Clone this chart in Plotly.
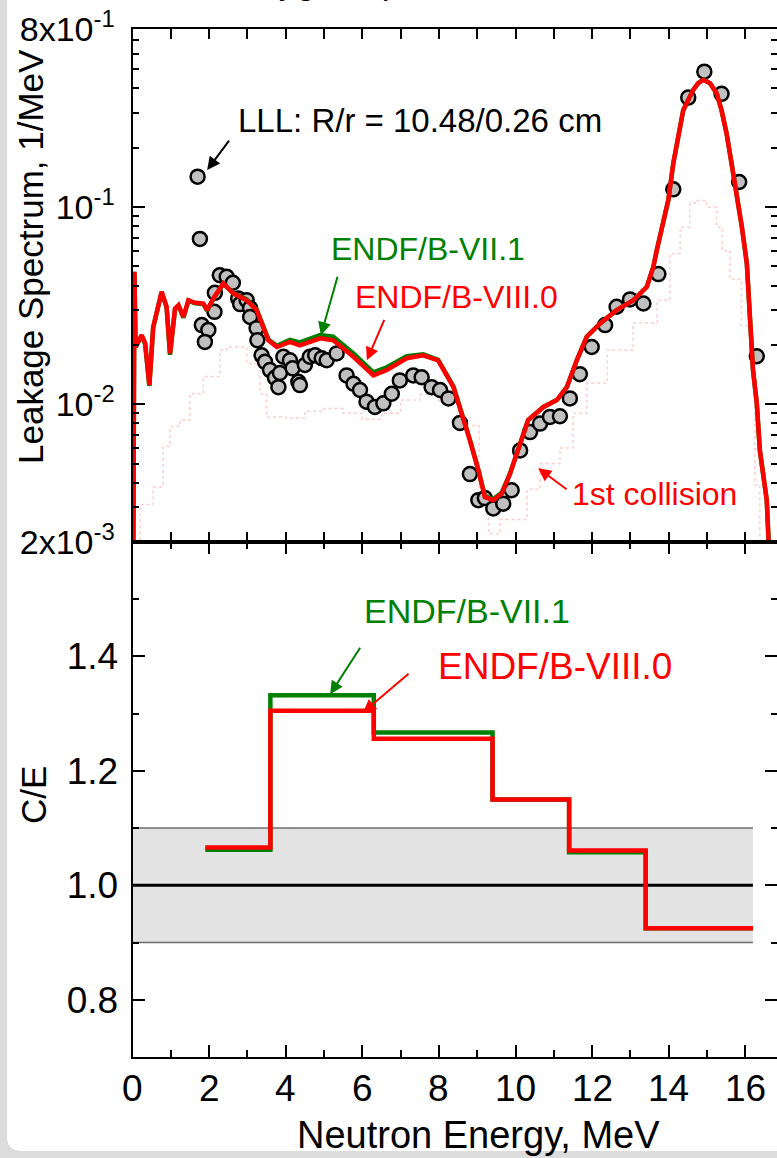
import numpy as np
import plotly.graph_objects as go

W, H = 777, 1158
FONT = "Liberation Sans, Arial, sans-serif"

# ---------------- data: leakage spectrum (top panel) ----------------
exp_E = [1.70, 1.76, 2.28, 2.46, 2.62, 2.15, 2.76, 2.14, 2.81, 2.98, 3.07, 3.07,
         1.81, 1.98, 1.89, 3.24, 3.26, 3.37, 3.46, 3.59, 3.72, 3.81, 3.85, 3.94,
         4.11, 4.18, 4.33, 4.37, 4.50, 4.63, 4.77, 4.94, 5.07, 5.33, 5.59, 5.77,
         5.94, 6.11, 6.33, 6.55, 6.77, 6.98, 7.33, 7.55, 7.81, 8.03, 8.25, 8.55,
         8.81, 9.03, 9.20, 9.42, 9.68, 9.90, 10.12, 10.38, 10.64, 10.90, 11.16,
         11.42, 11.68, 11.99, 12.34, 12.64, 12.99, 13.34, 13.73, 14.12, 14.51,
         14.93, 15.38, 15.84, 16.30]
exp_v = [0.1426, 0.0689, 0.0451, 0.0443, 0.0413, 0.0367, 0.0344, 0.0294, 0.0322,
         0.0337, 0.0307, 0.0277, 0.0252, 0.0238, 0.0207, 0.0243, 0.0211, 0.0177,
         0.0164, 0.0149, 0.0136, 0.0122, 0.0144, 0.0174, 0.0167, 0.0152, 0.0130,
         0.0125, 0.0158, 0.0174, 0.0177, 0.0171, 0.0167, 0.0181, 0.0140, 0.0127,
         0.0118, 0.0103, 0.00969, 0.0101, 0.0113, 0.0132, 0.0140, 0.0137, 0.0122,
         0.0118, 0.0107, 0.00804, 0.00442, 0.00326, 0.00334, 0.00296, 0.00313,
         0.00366, 0.00583, 0.00722, 0.00797, 0.00862, 0.00869, 0.0107, 0.0142,
         0.0195, 0.0252, 0.0312, 0.0340, 0.0324, 0.0457, 0.1230, 0.359, 0.486,
         0.375, 0.134, 0.0175]

calc_E = [0.02, 0.05, 0.08, 0.24, 0.33, 0.44, 0.54, 0.76, 0.89, 0.98, 1.11, 1.20,
          1.33, 1.46, 1.63, 1.85, 1.95, 2.11, 2.37, 2.63, 2.98, 3.24, 3.55, 3.77,
          4.11, 4.37, 4.90, 5.24, 5.77, 6.29, 6.64, 7.16, 7.59, 7.98, 8.38, 8.55,
          8.81, 9.03, 9.20, 9.42, 9.64, 9.86, 10.12, 10.33, 10.73, 11.08, 11.34,
          11.60, 11.86, 12.21, 12.64, 13.08, 13.43, 13.60, 13.69, 13.86, 13.99,
          14.12, 14.21, 14.29, 14.38, 14.51, 14.64, 14.77, 14.90, 15.08, 15.25,
          15.38, 15.51, 15.64, 15.77, 15.91, 16.04, 16.10, 16.20, 16.30, 16.38,
          16.56, 16.62]
endf80_v = [0.0015, 0.047, 0.0195, 0.0224, 0.0204, 0.0125, 0.0246, 0.0372, 0.0312,
            0.0181, 0.0306, 0.0318, 0.0277, 0.0337, 0.0327, 0.0324, 0.0300, 0.0344,
            0.0410, 0.0365, 0.0337, 0.0300, 0.0211, 0.0195, 0.0207, 0.0199, 0.0216,
            0.0211, 0.0174, 0.0140, 0.0149, 0.0171, 0.0177, 0.0167, 0.0122, 0.00968,
            0.00656, 0.00462, 0.00338, 0.00326, 0.00352, 0.00445, 0.00632, 0.0083,
            0.00968, 0.0105, 0.0122, 0.0167, 0.0220, 0.0257, 0.0300, 0.0337, 0.0394,
            0.0498, 0.0605, 0.0826, 0.1086, 0.1668, 0.2105, 0.256, 0.310, 0.349,
            0.393, 0.425, 0.442, 0.425, 0.378, 0.310, 0.237, 0.1668, 0.1175, 0.0794,
            0.0518, 0.0337, 0.0150, 0.0101, 0.00583, 0.00326, 0.0018]
endf71_v = [0.0015, 0.047, 0.0195, 0.0222, 0.0202, 0.0124, 0.0244, 0.0370, 0.0310,
            0.0178, 0.0303, 0.0316, 0.0275, 0.0335, 0.0325, 0.0322, 0.0298, 0.0342,
            0.0408, 0.0366, 0.0340, 0.0303, 0.0213, 0.0198, 0.0212, 0.0206, 0.0224,
            0.0220, 0.0181, 0.0145, 0.0154, 0.0175, 0.0179, 0.0168, 0.0123, 0.00975,
            0.00660, 0.00466, 0.00342, 0.00330, 0.00355, 0.00447, 0.00632, 0.0083,
            0.00968, 0.0105, 0.0122, 0.0167, 0.0220, 0.0257, 0.0300, 0.0337, 0.0394,
            0.0498, 0.0605, 0.0826, 0.1086, 0.1668, 0.2105, 0.256, 0.310, 0.349,
            0.393, 0.425, 0.442, 0.425, 0.378, 0.310, 0.237, 0.1668, 0.1175, 0.0794,
            0.0518, 0.0337, 0.0150, 0.0101, 0.00583, 0.00326, 0.0018]

coll_E = [0.05, 0.20, 0.54, 0.80, 0.98, 1.24, 1.50, 1.85, 2.28, 2.46, 2.98, 3.33,
          3.50, 4.0, 4.5, 5.0, 5.5, 6.0, 6.5, 7.0, 7.5, 8.0, 8.5, 9.05, 9.3, 9.6,
          10.3, 10.64, 11.16, 11.5, 11.86, 12.4, 13.07, 13.7, 14.03, 14.3, 14.55,
          14.72, 14.99, 15.25, 15.4, 15.6, 15.9, 16.2, 16.25, 16.38]
coll_v = [0.0019, 0.0031, 0.0038, 0.0061, 0.0077, 0.0083, 0.0113, 0.0138, 0.0188,
          0.0195, 0.0161, 0.0113, 0.0086, 0.0085, 0.0092, 0.0095, 0.0090, 0.0084,
          0.0090, 0.0105, 0.0112, 0.0104, 0.0078, 0.0030, 0.0022, 0.0026, 0.0037,
          0.0050, 0.0060, 0.0090, 0.0128, 0.0188, 0.0258, 0.0337, 0.058, 0.079,
          0.105, 0.108, 0.100, 0.079, 0.060, 0.043, 0.025, 0.0154, 0.0039, 0.0019]

# ---------------- data: C/E (bottom panel) ----------------
ce_edges = [1.9, 3.6, 6.3, 9.4, 11.4, 13.4, 16.2]
ce_endf71 = [1.062, 1.332, 1.267, 1.150, 1.058, 0.925]
ce_endf80 = [1.066, 1.305, 1.256, 1.150, 1.061, 0.925]

y_tickvals = [0.002, 0.01, 0.1, 0.8]
y_ticktext = ["2x10<sup>-3</sup>", "10<sup>-2</sup>", "10<sup>-1</sup>", "8x10<sup>-1</sup>"]
y_minor = [0.003, 0.004, 0.005, 0.006, 0.007, 0.008, 0.009,
           0.02, 0.03, 0.04, 0.05, 0.06, 0.07, 0.08, 0.09,
           0.2, 0.3, 0.4, 0.5, 0.6, 0.7]
ce_tickvals = [0.8, 1.0, 1.2, 1.4]
ce_ticktext = ["0.8", "1.0", "1.2", "1.4"]
ce_minor = [0.9, 1.1, 1.3, 1.5]
x_tickvals = [0, 2, 4, 6, 8, 10, 12, 14, 16]
x_ticktext = ["0", "2", "4", "6", "8", "10", "12", "14", "16"]

GREEN = "#008000"
RED = "#ff0000"

# ---------------- geometry ----------------
def px(x):
    return x / W

def py(y):
    return 1 - y / H

XL = 132.5
YT, YM, YB = 29, 542, 1057
XMAX = (W - XL) / 38.3

fig = go.Figure()

fig.add_trace(go.Scatter(x=coll_E, y=coll_v, xaxis="x", yaxis="y", mode="lines",
                         line=dict(color="rgba(255,90,90,0.3)", width=1.5, dash="dot", shape="hv")))
fig.add_trace(go.Scatter(x=exp_E, y=exp_v, xaxis="x", yaxis="y", mode="markers",
                         marker=dict(size=14, color="#c0c0c0", line=dict(color="black", width=2.5))))
fig.add_trace(go.Scatter(x=calc_E, y=endf71_v, xaxis="x", yaxis="y", mode="lines",
                         line=dict(color=GREEN, width=4.5)))
fig.add_trace(go.Scatter(x=calc_E, y=endf80_v, xaxis="x", yaxis="y", mode="lines",
                         line=dict(color=RED, width=4.5)))

fig.add_trace(go.Scatter(x=ce_edges, y=ce_endf71 + [ce_endf71[-1]], xaxis="x2", yaxis="y2",
                         mode="lines", line=dict(color=GREEN, width=4.5, shape="hv")))
fig.add_trace(go.Scatter(x=ce_edges, y=ce_endf80 + [ce_endf80[-1]], xaxis="x2", yaxis="y2",
                         mode="lines", line=dict(color=RED, width=4.5, shape="hv")))

shapes = [
    dict(type="rect", xref="x2", yref="y2", x0=0, x1=16.2, y0=0.9, y1=1.1,
         fillcolor="#e3e3e3", line=dict(width=0), layer="below"),
    dict(type="line", xref="x2", yref="y2", x0=0, x1=16.2, y0=0.9, y1=0.9,
         line=dict(color="#6e6e6e", width=1.5), layer="below"),
    dict(type="line", xref="x2", yref="y2", x0=0, x1=16.2, y0=1.1, y1=1.1,
         line=dict(color="#6e6e6e", width=1.5), layer="below"),
    dict(type="line", xref="x2", yref="y2", x0=0, x1=16.2, y0=1.0, y1=1.0,
         line=dict(color="black", width=3), layer="below"),
    # grey frame at left and bottom
    dict(type="rect", xref="paper", yref="paper", x0=0, x1=px(7), y0=0, y1=1,
         fillcolor="#dcdcdc", line=dict(width=0), layer="above"),
    dict(type="rect", xref="paper", yref="paper", x0=0, x1=1, y0=0, y1=py(1151),
         fillcolor="#dcdcdc", line=dict(width=0), layer="above"),
    dict(type="path", xref="paper", yref="paper",
         path="M {a},{b} Q {a},{c} {d},{c} L {a},{c} Z".format(
             a=px(7), b=py(1136), c=py(1151), d=px(22)),
         fillcolor="#dcdcdc", line=dict(width=0), layer="above"),
]

base = dict(linecolor="black", linewidth=2, ticks="inside", tickcolor="black",
            tickwidth=2, showgrid=False, zeroline=False, automargin=False)
TOPY_FONT = dict(family=FONT, size=34, color="black")
BIG_FONT = dict(family=FONT, size=37, color="black")

top_range = [np.log10(0.002), np.log10(0.8)]
top_minor = dict(tickmode="array", tickvals=y_minor, ticks="inside", ticklen=6,
                 tickwidth=2, tickcolor="black", showgrid=False)
ce_minor_d = dict(tickmode="array", tickvals=ce_minor, ticks="inside", ticklen=6,
                  tickwidth=2, tickcolor="black", showgrid=False)

layout = dict(
    template="none",
    width=W, height=H, margin=dict(l=0, r=0, t=0, b=0, pad=0, autoexpand=False),
    paper_bgcolor="white", plot_bgcolor="white", showlegend=False,
    font=dict(family=FONT, color="black"),
    xaxis=dict(domain=[px(XL), 1], range=[0, XMAX], anchor="y", showticklabels=False,
               tickmode="linear", tick0=0, dtick=1, ticklen=10, showline=True,
               mirror="ticks", **base),
    yaxis=dict(domain=[py(YM), py(YT)], type="log", anchor="x", range=top_range,
               tickmode="array", tickvals=y_tickvals, ticktext=y_ticktext, ticklen=12,
               ticklabelstandoff=9, tickfont=TOPY_FONT, minor=top_minor,
               showline=True, mirror=False, **base),
    yaxis3=dict(domain=[py(YM), py(YT)], type="log", anchor="x", overlaying="y",
                side="right", range=top_range, showticklabels=False,
                tickmode="array", tickvals=y_tickvals, ticklen=12, minor=top_minor,
                showline=False, **base),
    xaxis2=dict(domain=[px(XL), 1], range=[0, XMAX], anchor="y2",
                tickmode="array", tickvals=x_tickvals, ticklen=12, showticklabels=False,
                minor=dict(tickmode="linear", tick0=1, dtick=2, ticks="inside", ticklen=7,
                           tickwidth=2, tickcolor="black", showgrid=False),
                showline=True, mirror="ticks", **base),
    yaxis2=dict(domain=[py(YB), py(YM)], range=[0.7, 1.6], anchor="x2",
                tickmode="array", tickvals=ce_tickvals, ticktext=ce_ticktext, ticklen=12,
                ticklabelstandoff=5, tickfont=BIG_FONT, minor=ce_minor_d,
                showline=True, mirror=False, **base),
    yaxis4=dict(domain=[py(YB), py(YM)], range=[0.7, 1.6], anchor="x2", overlaying="y2",
                side="right", showticklabels=False,
                tickmode="array", tickvals=ce_tickvals, ticklen=12, minor=ce_minor_d,
                showline=False, **base),
    shapes=shapes,
)
fig.update_layout(**layout)

# invisible traces so the right-hand tick axes are drawn
fig.add_trace(go.Scatter(x=[None], y=[None], xaxis="x", yaxis="y3", showlegend=False,
                         hoverinfo="skip"))
fig.add_trace(go.Scatter(x=[None], y=[None], xaxis="x2", yaxis="y4", showlegend=False,
                         hoverinfo="skip"))

ann = []

def text_ann(x, y, text, color, size, xanchor="center"):
    ann.append(dict(xref="paper", yref="paper", x=px(x), y=py(y), text=text,
                    showarrow=False, xanchor=xanchor, yanchor="middle",
                    font=dict(family=FONT, size=size, color=color)))

def arrow_ann(xr, yr, x, y, ax, ay, color):
    ann.append(dict(xref=xr, yref=yr, x=x, y=y, ax=ax, ay=ay, axref="pixel", ayref="pixel",
                    text="", showarrow=True, arrowhead=2, arrowsize=1.3, arrowwidth=2,
                    arrowcolor=color, standoff=0))

# x tick labels of the lower axis (placed on the x2 scale)
for v, t in zip(x_tickvals, x_ticktext):
    ann.append(dict(xref="x2", yref="paper", x=v, y=py(1088), text=t, showarrow=False,
                    xanchor="center", yanchor="middle",
                    font=dict(family=FONT, size=37, color="black")))

# cropped title at the very top
text_ann(232, -18, "Oxygen sphere", "black", 35, xanchor="left")

# axis titles
ann.append(dict(xref="paper", yref="paper", x=px(31), y=py(257), text="Leakage Spectrum, 1/MeV",
                textangle=-90, showarrow=False, xanchor="center", yanchor="middle",
                font=dict(family=FONT, size=35, color="black")))
ann.append(dict(xref="paper", yref="paper", x=px(33), y=py(795), text="C/E",
                textangle=-90, showarrow=False, xanchor="center", yanchor="middle",
                font=dict(family=FONT, size=35, color="black")))
text_ann(478, 1135, "Neutron Energy, MeV", "black", 38)

# top panel labels
text_ann(420, 121, "LLL: R/r = 10.48/0.26 cm", "black", 33)
text_ann(428, 249, "ENDF/B-VII.1", GREEN, 32)
text_ann(456, 297, "ENDF/B-VIII.0", RED, 32)
text_ann(654, 494, "1st collision", RED, 32)
arrow_ann("x", "y", 1.95, np.log10(0.154), 23, -31, "black")
arrow_ann("x", "y", 4.92, np.log10(0.0224), 17, -60, GREEN)
arrow_ann("x", "y", 6.12, np.log10(0.0167), 18, -42, RED)
arrow_ann("x", "y", 10.59, np.log10(0.00473), 30, 22, RED)

# bottom panel labels
text_ann(467, 611, "ENDF/B-VII.1", GREEN, 34)
text_ann(555, 666, "ENDF/B-VIII.0", RED, 37)
arrow_ann("x2", "y2", 5.16, 1.334, 31, -48, GREEN)
arrow_ann("x2", "y2", 6.02, 1.302, 47, -40, RED)

fig.update_layout(annotations=ann)
fig.write_html("out.html")
